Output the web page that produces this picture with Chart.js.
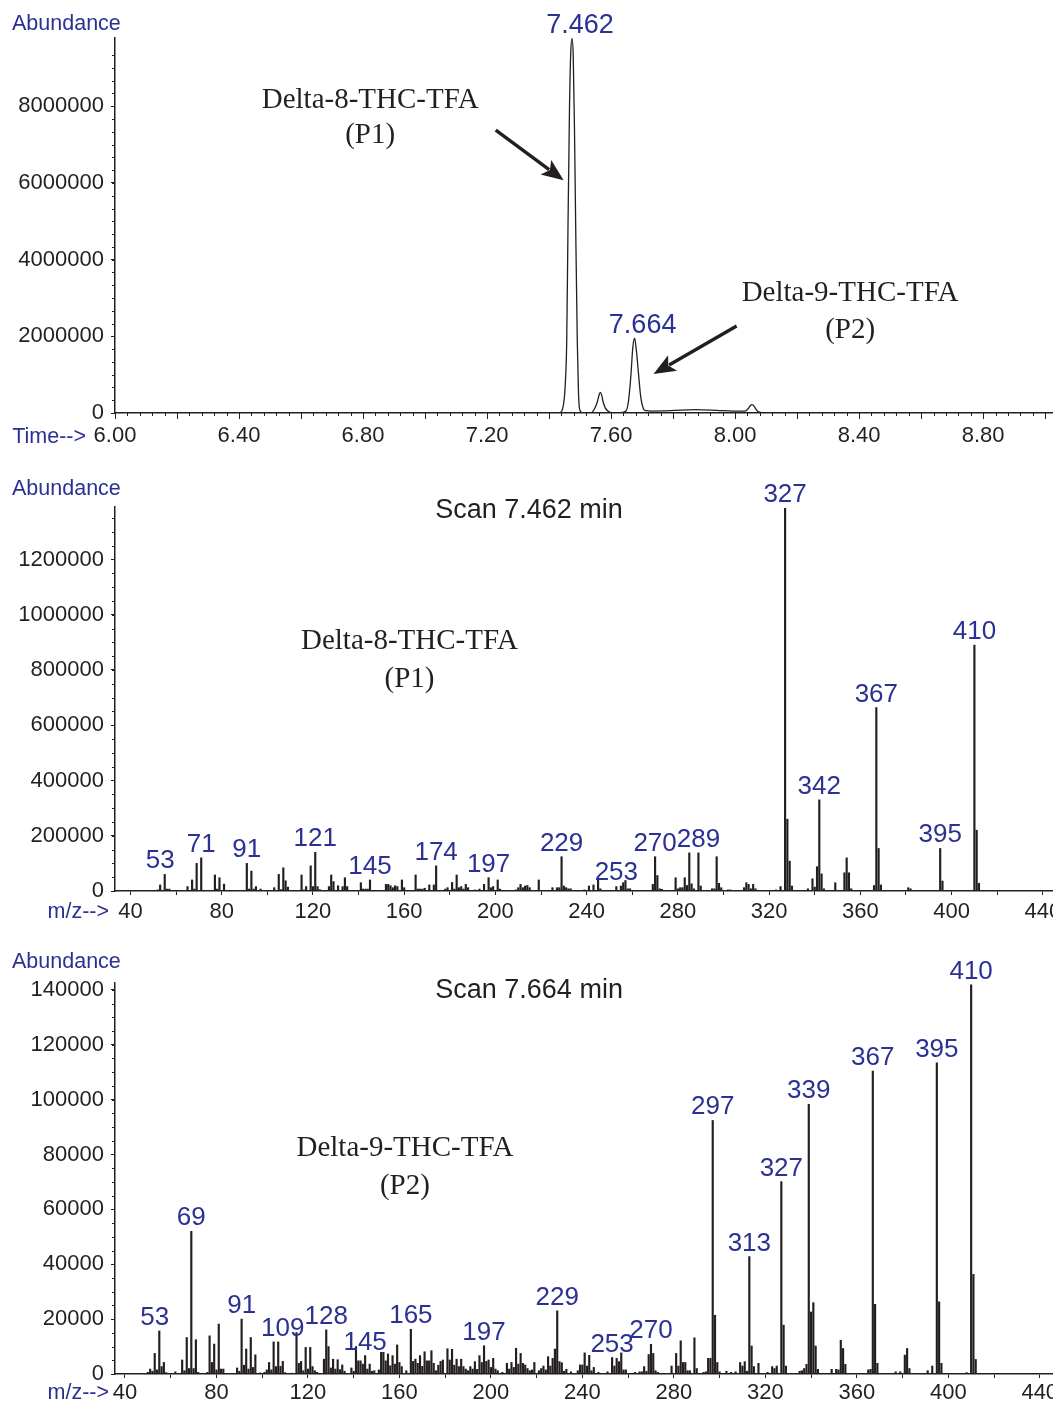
<!DOCTYPE html>
<html>
<head>
<meta charset="utf-8">
<script src="https://cdn.jsdelivr.net/npm/chart.js@4/dist/chart.umd.min.js"></script>
<style>
  html, body { margin: 0; padding: 0; background: #fff; width: 1053px; height: 1403px; overflow: hidden; }
  canvas { position: absolute; left: 0; }
</style>
</head>
<body>
<canvas id="chromChart" width="1100" height="458" style="top:0px"></canvas>
<canvas id="scan1Chart" width="1080" height="466" style="top:470px"></canvas>
<canvas id="scan2Chart" width="1080" height="469" style="top:950px"></canvas>
<script>
// ---- chromatogram (time in min, abundance in millions) ----
const chromTime = [7.412, 7.435, 7.444, 7.452, 7.457, 7.461, 7.466, 7.470, 7.474, 7.478,
  7.482, 7.486, 7.491, 7.495, 7.499, 7.507, 7.532, 7.540, 7.549, 7.556,
  7.562, 7.566, 7.570, 7.574, 7.582, 7.592, 7.602, 7.632, 7.648, 7.656,
  7.664, 7.670, 7.676, 7.682, 7.689, 7.696, 7.704, 7.712, 7.732, 7.792,
  7.872, 7.942, 7.992, 8.032, 8.042, 8.050, 8.055, 8.061, 8.068, 8.076,
  8.092];
const chromAbund = [0, 0.01, 0.12, 0.7, 1.9, 4.8, 8.0, 9.4, 9.77, 9.3,
  7.4, 4.8, 1.9, 0.5, 0.08, 0.01, 0, 0.03, 0.15, 0.30,
  0.49, 0.54, 0.46, 0.30, 0.12, 0.04, 0.01, 0.01, 0.05, 0.3,
  0.98, 1.7, 1.95, 1.6, 0.98, 0.4, 0.12, 0.06, 0.05, 0.06,
  0.09, 0.07, 0.05, 0.05, 0.11, 0.2, 0.22, 0.18, 0.09, 0.03,
  0];
const chromPeaks = [7.462, 7.664];
const chromXTicks = [6.0, 6.2, 6.4, 6.6, 6.8, 7.0, 7.2, 7.4, 7.6, 7.8, 8.0, 8.2, 8.4, 8.6, 8.8, 9.0];
const chromXLabels = ['6.00', '6.40', '6.80', '7.20', '7.60', '8.00', '8.40', '8.80'];
const chromYTicks = [0, 2000000, 4000000, 6000000, 8000000];

// ---- scan 7.462 min (m/z, abundance in thousands) ----
const scan1Mz = [52, 53, 55, 56, 57, 65, 67, 68, 69, 71,
  77, 78, 79, 81, 91, 92, 93, 94, 95, 97,
  103, 105, 106, 107, 108, 109, 115, 116, 117, 119,
  120, 121, 122, 123, 127, 128, 129, 131, 133, 134,
  135, 141, 142, 143, 144, 145, 152, 153, 154, 155,
  156, 157, 159, 160, 165, 166, 167, 168, 169, 171,
  173, 174, 178, 179, 181, 182, 183, 184, 185, 186,
  187, 188, 191, 193, 195, 197, 198, 199, 201, 202,
  209, 210, 211, 212, 213, 214, 215, 219, 225, 227,
  228, 229, 230, 231, 232, 233, 239, 241, 243, 245,
  246, 253, 255, 256, 257, 258, 259, 269, 270, 271,
  272, 273, 279, 280, 281, 282, 283, 284, 285, 286,
  287, 289, 290, 295, 296, 297, 298, 299, 302, 303,
  309, 310, 311, 312, 313, 314, 323, 325, 327, 328,
  329, 330, 337, 339, 340, 341, 342, 343, 344, 349,
  353, 354, 355, 356, 366, 367, 368, 369, 381, 382,
  395, 396, 410, 411, 412];
const scan1K = [4, 22, 60, 7, 7, 16, 40, 7, 100, 120,
  58, 7, 48, 25, 100, 7, 72, 7, 16, 7,
  12, 60, 5, 84, 37, 14, 58, 4, 16, 91,
  16, 140, 16, 5, 16, 58, 34, 19, 16, 48,
  16, 30, 7, 7, 7, 40, 24, 24, 19, 12,
  19, 16, 40, 12, 58, 7, 7, 7, 10, 22,
  22, 91, 7, 12, 31, 7, 58, 12, 16, 7,
  24, 12, 4, 7, 24, 48, 12, 16, 40, 7,
  4, 12, 24, 12, 18, 20, 12, 40, 12, 12,
  12, 124, 18, 12, 8, 8, 4, 18, 22, 40,
  8, 16, 18, 30, 38, 8, 8, 24, 124, 56,
  8, 6, 48, 8, 12, 12, 48, 20, 138, 26,
  8, 138, 18, 8, 8, 124, 28, 12, 4, 4,
  12, 30, 24, 8, 24, 8, 4, 16, 1385, 260,
  108, 18, 8, 44, 14, 88, 330, 62, 8, 30,
  66, 120, 66, 8, 20, 664, 154, 22, 12, 8,
  154, 36, 890, 220, 28];
const scan1Peaks = [53, 71, 91, 121, 145, 174, 197, 229, 253, 270, 289, 327, 342, 367, 395, 410];
const scan1YTicks = [0, 200000, 400000, 600000, 800000, 1000000, 1200000];

// ---- scan 7.664 min (m/z, abundance in thousands) ----
const scan2Mz = [50, 51, 52, 53, 54, 55, 56, 57, 58, 62,
  65, 66, 67, 68, 69, 70, 71, 72, 76, 77,
  78, 79, 80, 81, 82, 83, 89, 90, 91, 92,
  93, 94, 95, 96, 97, 99, 101, 102, 103, 104,
  105, 106, 107, 108, 109, 110, 113, 115, 116, 117,
  118, 119, 120, 121, 122, 123, 124, 127, 128, 129,
  130, 131, 132, 133, 134, 135, 136, 139, 140, 141,
  142, 143, 144, 145, 146, 147, 148, 149, 151, 152,
  153, 154, 155, 156, 157, 158, 159, 160, 161, 163,
  165, 166, 167, 168, 169, 170, 171, 172, 173, 174,
  175, 176, 177, 178, 179, 181, 182, 183, 184, 185,
  186, 187, 188, 189, 190, 191, 192, 193, 194, 195,
  196, 197, 198, 199, 200, 201, 202, 203, 205, 207,
  208, 209, 210, 211, 212, 213, 214, 215, 216, 217,
  218, 219, 221, 222, 223, 224, 225, 226, 227, 228,
  229, 230, 231, 232, 233, 235, 238, 239, 240, 241,
  242, 243, 244, 245, 247, 251, 253, 254, 255, 256,
  257, 258, 259, 263, 265, 266, 267, 268, 269, 270,
  271, 272, 273, 279, 281, 282, 283, 284, 285, 286,
  287, 289, 290, 293, 294, 295, 296, 297, 298, 299,
  300, 303, 305, 307, 309, 310, 311, 312, 313, 314,
  315, 317, 321, 323, 324, 325, 327, 328, 329, 335,
  336, 337, 338, 339, 340, 341, 342, 343, 349, 351,
  352, 353, 354, 355, 365, 366, 367, 368, 369, 377,
  379, 381, 382, 383, 391, 393, 395, 396, 397, 408,
  410, 411, 412];
const scan2K = [0.6, 1.8, 1.0, 7.5, 1.5, 15.7, 2.7, 4.2, 0.5, 0.8,
  5.1, 1.2, 13.3, 2.0, 52.0, 2.0, 12.5, 0.6, 0.6, 13.9,
  4.2, 10.9, 1.5, 18.2, 1.8, 1.8, 2.2, 1.0, 20.0, 3.2,
  9.1, 1.8, 13.3, 2.4, 7.0, 0.4, 0.6, 1.5, 4.2, 1.5,
  11.7, 2.7, 11.7, 2.8, 4.6, 0.5, 0.3, 15.1, 3.9, 4.6,
  1.2, 9.7, 1.8, 9.7, 2.7, 1.2, 0.6, 5.4, 16.1, 10.0,
  2.2, 5.4, 1.8, 5.2, 1.6, 3.3, 1.0, 2.2, 1.0, 10.0,
  4.8, 4.8, 3.6, 6.7, 1.8, 3.6, 1.0, 1.2, 1.5, 7.9,
  7.9, 4.8, 7.3, 3.0, 6.7, 3.6, 10.6, 4.2, 2.7, 1.2,
  16.3, 4.6, 5.4, 3.9, 6.7, 2.8, 8.1, 4.8, 4.8, 8.5,
  3.9, 1.2, 3.2, 4.6, 5.1, 9.2, 5.1, 9.0, 3.2, 5.4,
  2.7, 5.4, 2.7, 1.8, 1.2, 2.7, 1.8, 4.5, 1.7, 6.7,
  4.2, 10.3, 4.6, 5.1, 2.4, 5.7, 1.8, 1.2, 0.6, 3.9,
  1.8, 4.2, 2.4, 9.4, 3.6, 7.5, 3.9, 3.3, 2.0, 1.2,
  1.5, 4.2, 1.2, 2.0, 2.9, 1.5, 6.3, 2.9, 5.7, 9.1,
  23.0, 4.5, 4.1, 1.0, 1.7, 0.8, 1.2, 3.3, 3.3, 7.7,
  2.9, 6.8, 1.2, 2.4, 0.6, 0.8, 6.0, 2.9, 5.7, 4.5,
  7.7, 1.5, 1.5, 0.6, 0.8, 0.8, 2.7, 1.0, 7.1, 10.8,
  7.5, 1.2, 0.6, 2.9, 7.5, 2.9, 12.1, 4.2, 4.2, 1.2,
  1.2, 13.2, 2.0, 0.6, 0.8, 5.7, 5.7, 92.4, 21.4, 4.2,
  0.8, 1.0, 0.6, 0.8, 4.2, 2.9, 4.5, 1.0, 42.8, 10.2,
  2.7, 3.9, 0.6, 2.7, 2.0, 2.9, 70.1, 17.8, 2.9, 1.0,
  1.2, 2.0, 3.5, 98.3, 22.6, 26.0, 10.2, 1.7, 1.7, 1.7,
  1.5, 12.3, 9.3, 3.5, 1.5, 1.7, 110.4, 25.4, 3.9, 0.8,
  0.8, 6.9, 9.3, 2.0, 1.2, 2.9, 113.4, 26.3, 3.9, 0.5,
  141.8, 36.3, 5.3];
const scan2Peaks = [53, 69, 91, 109, 128, 145, 165, 197, 229, 253, 270, 297, 313, 327, 339, 367, 395, 410];
const scan2YTicks = [0, 20000, 40000, 60000, 80000, 100000, 120000, 140000];

const mzTicks = [40, 60, 80, 100, 120, 140, 160, 180, 200, 220, 240, 260, 280, 300, 320, 340, 360, 380, 400, 420, 440];
const mzLabels = ['40', '80', '120', '160', '200', '240', '280', '320', '360', '400', '440'];

// ---- styling ----
const fontSans = '"Liberation Sans", Arial, Helvetica, sans-serif';
const fontSerif = '"Liberation Serif", "Times New Roman", serif';
const ink = '#231f20';
const blue = '#2b3192';

function steps(from, to, step) {
  const out = [];
  for (let v = from; v <= to + 1e-9; v += step) out.push(v);
  return out;
}

function fixedTicks(values) {
  return axis => { axis.ticks = values.map(v => ({ value: v })); };
}

// draws minor ticks, axis titles, peak labels, notes and arrows
function decor(cfg) {
  return {
    id: 'decor',
    afterDraw(chart) {
      const ctx = chart.ctx, xs = chart.scales.x, ys = chart.scales.y, a = chart.chartArea;
      ctx.save();
      ctx.strokeStyle = ink;
      ctx.lineWidth = 1;
      ctx.beginPath();
      cfg.minorX.forEach(v => {
        const p = Math.round(xs.getPixelForValue(v)) + 0.5;
        ctx.moveTo(p, a.bottom); ctx.lineTo(p, a.bottom + 3);
      });
      cfg.minorY.forEach(v => {
        const p = Math.round(ys.getPixelForValue(v)) + 0.5;
        ctx.moveTo(a.left - 3, p); ctx.lineTo(a.left, p);
      });
      ctx.stroke();

      ctx.fillStyle = blue;
      ctx.font = '21.5px ' + fontSans;
      ctx.textBaseline = 'middle';
      cfg.titles.forEach(t => { ctx.textAlign = t.align; ctx.fillText(t.text, t.x, t.y); });

      // peak labels sit above the tallest mark near the labelled value
      const pk = cfg.peaks;
      ctx.font = pk.size + 'px ' + fontSans;
      ctx.textAlign = 'center';
      ctx.textBaseline = 'alphabetic';
      pk.values.forEach(v => {
        let top = 0, at = v;
        pk.xs.forEach((x, i) => {
          if (Math.abs(x - v) <= pk.win && pk.ys[i] > top) { top = pk.ys[i]; if (pk.atApex) at = x; }
        });
        const text = pk.digits ? v.toFixed(pk.digits) : String(v);
        ctx.fillText(text, xs.getPixelForValue(at) + pk.dx, ys.getPixelForValue(top * pk.unit) - pk.gap);
      });

      ctx.fillStyle = ink;
      ctx.textBaseline = 'middle';
      cfg.notes.forEach(n => {
        ctx.font = n.font;
        const px = xs.getPixelForValue(n.x), py = ys.getPixelForValue(n.y);
        n.lines.forEach((s, i) => ctx.fillText(s, px, py + i * n.gap));
      });

      cfg.arrows.forEach(ar => {
        const x0 = xs.getPixelForValue(ar.from[0]), y0 = ys.getPixelForValue(ar.from[1]);
        const x1 = xs.getPixelForValue(ar.to[0]), y1 = ys.getPixelForValue(ar.to[1]);
        const ang = Math.atan2(y1 - y0, x1 - x0), head = 22, half = 9;
        const bx = x1 - head * Math.cos(ang), by = y1 - head * Math.sin(ang);
        ctx.lineWidth = 3.4;
        ctx.beginPath(); ctx.moveTo(x0, y0); ctx.lineTo(bx + 4 * Math.cos(ang), by + 4 * Math.sin(ang)); ctx.stroke();
        ctx.beginPath();
        ctx.moveTo(x1, y1);
        ctx.lineTo(bx + half * Math.sin(ang), by - half * Math.cos(ang));
        ctx.lineTo(bx + 5 * Math.cos(ang), by + 5 * Math.sin(ang));
        ctx.lineTo(bx - half * Math.sin(ang), by + half * Math.cos(ang));
        ctx.closePath(); ctx.fill();
      });
      ctx.restore();
    }
  };
}

function axesOptions(c) {
  return {
    responsive: false,
    animation: false,
    events: [],
    layout: { padding: { top: c.padTop, right: 0, bottom: 0, left: 0 } },
    plugins: { legend: { display: false }, tooltip: { enabled: false } },
    scales: {
      x: {
        type: 'linear', min: c.xMin, max: c.xMax, offset: false,
        afterBuildTicks: fixedTicks(c.xTicks),
        afterFit: s => { s.height = 45; },
        grid: { drawOnChartArea: false, offset: false, drawTicks: true, tickLength: c.xTickLen, tickColor: ink, tickWidth: 1 },
        border: { display: true, color: ink, width: 1.5 },
        ticks: {
          color: ink, font: { family: fontSans, size: 22 }, padding: c.xPad,
          maxRotation: 0, autoSkip: false, callback: c.xLabel
        }
      },
      y: {
        min: 0, max: c.yMax,
        afterBuildTicks: fixedTicks(c.yTicks),
        afterFit: s => { s.width = 115; },
        grid: { drawOnChartArea: false, drawTicks: true, tickLength: 4, tickColor: ink, tickWidth: 1 },
        border: { display: true, color: ink, width: 1.5 },
        ticks: { color: ink, font: { family: fontSans, size: 22 }, padding: 7, autoSkip: false, callback: v => String(v) }
      }
    }
  };
}

const chromLabel = v => { const s = v.toFixed(2); return chromXLabels.includes(s) ? s : ''; };
const mzLabel = v => { const s = String(Math.round(v)); return mzLabels.includes(s) ? s : ''; };

// ---- chart 1: total ion chromatogram ----
new Chart(document.getElementById('chromChart'), {
  type: 'line',
  data: {
    datasets: [{
      data: chromTime.map((t, i) => ({ x: t, y: chromAbund[i] * 1e6 })),
      borderColor: ink, borderWidth: 1.3, pointRadius: 0, fill: false,
      cubicInterpolationMode: 'monotone'
    }]
  },
  options: axesOptions({
    padTop: 38, xMin: 6.0, xMax: 9.177, xTicks: chromXTicks, xTickLen: 6, xPad: 4,
    xLabel: chromLabel, yMax: 9780000, yTicks: chromYTicks
  }),
  plugins: [decor({
    minorX: steps(6.0, 9.16, 0.04),
    minorY: steps(0, 9600000, 2000000 / 6),
    titles: [
      { text: 'Abundance', x: 12, y: 24, align: 'left' },
      { text: 'Time-->', x: 86, y: 437, align: 'right' }
    ],
    peaks: { values: chromPeaks, xs: chromTime, ys: chromAbund, win: 0.02, unit: 1e6, size: 27, dx: 8, gap: 5, digits: 3, atApex: true },
    notes: [
      { lines: ['Delta-8-THC-TFA', '(P1)'], x: 6.823, y: 8156000, gap: 35, font: '29px ' + fontSerif },
      { lines: ['Delta-9-THC-TFA', '(P2)'], x: 8.371, y: 3127000, gap: 37, font: '29px ' + fontSerif }
    ],
    arrows: [
      { from: [7.228, 7375000], to: [7.447, 6072000] },
      { from: [8.005, 2267000], to: [7.737, 1016000] }
    ]
  })]
});

// ---- chart 2: mass spectrum at 7.462 min ----
new Chart(document.getElementById('scan1Chart'), {
  type: 'bar',
  data: {
    datasets: [{
      data: scan1Mz.map((m, i) => ({ x: m, y: scan1K[i] * 1000 })),
      backgroundColor: ink, borderWidth: 0, barThickness: 1.5
    }]
  },
  options: axesOptions({
    padTop: 37, xMin: 33.2, xMax: 456.3, xTicks: mzTicks, xTickLen: 4, xPad: 4,
    xLabel: mzLabel, yMax: 1390000, yTicks: scan1YTicks
  }),
  plugins: [decor({
    minorX: [],
    minorY: steps(0, 1350000, 50000),
    titles: [
      { text: 'Abundance', x: 12, y: 19, align: 'left' },
      { text: 'm/z-->', x: 109, y: 442, align: 'right' }
    ],
    peaks: { values: scan1Peaks, xs: scan1Mz, ys: scan1K, win: 2.5, unit: 1000, size: 26, dx: 0, gap: 6, digits: 0, atApex: false },
    notes: [
      { lines: ['Scan 7.462 min'], x: 214.7, y: 1377000, gap: 0, font: '27px ' + fontSans },
      { lines: ['Delta-8-THC-TFA', '(P1)'], x: 162.3, y: 905000, gap: 38, font: '29px ' + fontSerif }
    ],
    arrows: []
  })]
});

// ---- chart 3: mass spectrum at 7.664 min ----
new Chart(document.getElementById('scan2Chart'), {
  type: 'bar',
  data: {
    datasets: [{
      data: scan2Mz.map((m, i) => ({ x: m, y: scan2K[i] * 1000 })),
      backgroundColor: ink, borderWidth: 0, barThickness: 1.5
    }]
  },
  options: axesOptions({
    padTop: 33, xMin: 35.63, xMax: 457.6, xTicks: mzTicks, xTickLen: 4, xPad: 2,
    xLabel: mzLabel, yMax: 142500, yTicks: scan2YTicks
  }),
  plugins: [decor({
    minorX: [],
    minorY: steps(0, 140000, 5000),
    titles: [
      { text: 'Abundance', x: 12, y: 12, align: 'left' },
      { text: 'm/z-->', x: 109, y: 443, align: 'right' }
    ],
    peaks: { values: scan2Peaks, xs: scan2Mz, ys: scan2K, win: 2.5, unit: 1000, size: 26, dx: 0, gap: 6, digits: 0, atApex: false },
    notes: [
      { lines: ['Scan 7.664 min'], x: 216.7, y: 139600, gap: 0, font: '27px ' + fontSans },
      { lines: ['Delta-9-THC-TFA', '(P2)'], x: 162.4, y: 82300, gap: 38, font: '29px ' + fontSerif }
    ],
    arrows: []
  })]
});
</script>
</body>
</html>
